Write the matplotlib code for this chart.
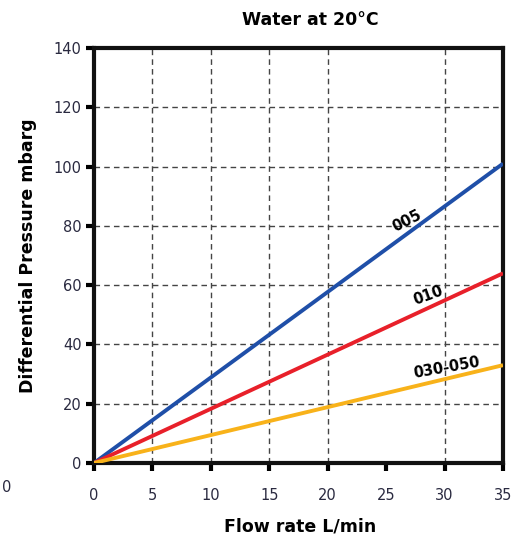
import matplotlib
matplotlib.use("Agg")
import matplotlib.pyplot as plt
import numpy as np

flow = [0, 35]
series_names = ["005", "010", "030-050"]
p005 = [0, 101]
p010 = [0, 64]
p030 = [0, 33]
colors = ["#1f4fa8", "#e8202a", "#f8b21a"]
xticks = [0, 5, 10, 15, 20, 25, 30, 35]
yticks = [0, 20, 40, 60, 80, 100, 120, 140]
xgrid = [5, 10, 15, 20, 30]
ygrid = [20, 40, 60, 80, 100, 120]

fig = plt.figure(figsize=(5.29, 5.38), dpi=100)
ax = fig.add_axes([0.1777, 0.1394, 0.7732, 0.7714])
ax.set_xlim(0, 35)
ax.set_ylim(0, 140)

for g in xgrid:
    ax.axvline(g, color="#444444", lw=1.0, ls=(0, (4, 3)), zorder=1)
for g in ygrid:
    ax.axhline(g, color="#444444", lw=1.0, ls=(0, (4, 3)), zorder=1)

for vals, c in zip([p005, p010, p030], colors):
    ax.plot(flow, vals, color=c, lw=2.8, zorder=3, solid_capstyle="butt")

tickfont = dict(family=["DejaVu Sans"], size=10.5)
ax.set_xticks(xticks)
ax.set_yticks(yticks)
ax.set_xticklabels([str(t) for t in xticks], fontdict=tickfont, color="#2a2a40")
ax.set_yticklabels([str(t) for t in yticks], fontdict=tickfont, color="#2a2a40")
ax.tick_params(direction="out", length=6, width=3, pad=3)
ax.tick_params(axis="x", pad=12)
for s in ax.spines.values():
    s.set_linewidth(3)
    s.set_color("#111111")

lblfont = dict(family=["DejaVu Sans"], size=10.5, fontweight="bold")
ax.text(26.8, 81.8, series_names[0], rotation=27, ha="center", va="center", **lblfont)
ax.text(28.6, 56.5, series_names[1], rotation=20, ha="center", va="center", **lblfont)
ax.text(30.2, 32.0, series_names[2], rotation=10, ha="center", va="center", **lblfont)

fig.text(0.586, 0.962, "Water at 20°C", ha="center", va="center", fontsize=12.5, fontweight="bold")
fig.text(0.052, 0.525, "Differential Pressure mbarg", ha="center", va="center", rotation=90,
         fontsize=12.5, fontweight="bold")
fig.text(0.567, 0.022, "Flow rate L/min", ha="center", va="center", fontsize=12.5, fontweight="bold")
fig.text(0.013, 0.093, "0", ha="center", va="center", fontdict=tickfont, color="#2a2a40")

fig.savefig("out.png", dpi=100)
